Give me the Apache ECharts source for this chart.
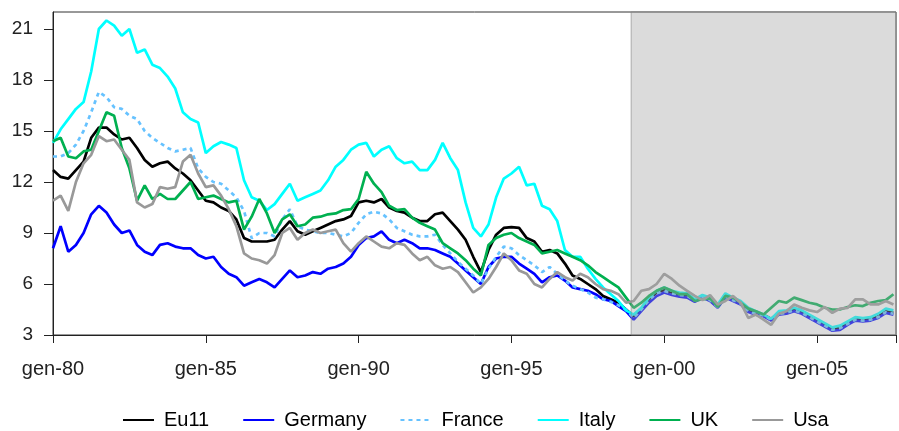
<!DOCTYPE html>
<html>
<head>
<meta charset="utf-8">
<script src="https://cdn.jsdelivr.net/npm/echarts@6/dist/echarts.min.js"></script>
<style>
  html, body { margin: 0; padding: 0; background: #fff; }
  #chart { width: 899px; height: 431px; }
</style>
</head>
<body>
<div id="chart"></div>
<script>
// quarterly readings (Jan, Apr, Jul, Oct), Jan 1980 .. Jul 2007
const eu11 = [
  12.7, 12.3, 12.2, 12.7,   13.2, 14.6, 15.2, 15.2,   14.8, 14.5, 14.6, 14.0,
  13.3, 12.9, 13.1, 13.2,   12.8, 12.5, 12.1, 11.5,   10.9, 10.8, 10.5, 10.3,
  9.8, 8.7, 8.5, 8.5,       8.5, 8.6, 9.2, 9.7,       9.1, 8.9, 9.1, 9.3,
  9.5, 9.7, 9.8, 10.0,      10.8, 10.9, 10.8, 11.0,   10.5, 10.3, 10.2, 9.9,
  9.7, 9.7, 10.1, 10.2,     9.7, 9.2, 8.6, 7.6,       6.7, 8.0, 8.9, 9.3,
  9.35, 9.3, 8.7, 8.5,      7.9, 8.0, 7.8, 7.2,       6.5, 6.3, 6.0, 5.7,
  5.3, 5.1, 4.9, 4.5,       4.1, 4.55, 5.1, 5.5,      5.65, 5.5, 5.4, 5.35,
  5.05, 5.3, 5.1, 4.7,      5.3, 5.1, 4.9, 4.45,      4.3, 4.2, 3.95, 4.3,
  4.35, 4.5, 4.35, 4.1,     3.85, 3.6, 3.35, 3.45,    3.7, 3.95, 3.9, 3.95,
  4.1, 4.4, 4.3
];
const germany = [
  8.1, 9.4, 7.9, 8.3,       9.0, 10.1, 10.6, 10.2,    9.5, 9.0, 9.15, 8.3,
  7.9, 7.7, 8.3, 8.4,       8.2, 8.1, 8.1, 7.7,       7.5, 7.6, 7.0, 6.6,
  6.4, 5.9, 6.1, 6.3,       6.1, 5.8, 6.3, 6.8,       6.4, 6.5, 6.7, 6.6,
  6.9, 7.0, 7.2, 7.6,       8.3, 8.7, 8.8, 9.1,       8.6, 8.4, 8.6, 8.4,
  8.1, 8.1, 8.0, 7.8,       7.6, 7.2, 6.8, 6.4,       6.0, 7.0, 7.5, 7.6,
  7.6, 7.2, 6.9, 6.6,       6.1, 6.4, 6.5, 6.2,       5.8, 5.7, 5.6, 5.4,
  5.1, 5.0, 4.7, 4.4,       3.9, 4.4, 4.9, 5.3,       5.5, 5.35, 5.25, 5.2,
  4.95, 5.2, 5.0, 4.6,      5.2, 5.0, 4.8, 4.35,      4.2, 4.1, 3.85, 4.2,
  4.25, 4.4, 4.25, 4.0,     3.75, 3.5, 3.25, 3.3,     3.6, 3.85, 3.8, 3.85,
  4.0, 4.3, 4.2
];
const france = [
  13.5, 13.5, 13.7, 14.2,   15.0, 16.1, 17.3, 17.0,   16.4, 16.3, 15.9, 15.7,
  15.0, 14.6, 14.3, 14.0,   13.8, 13.9, 14.0, 12.8,   12.3, 12.0, 11.9, 11.5,
  11.1, 10.3, 8.7, 9.0,     9.0, 8.8, 9.8, 10.4,      9.4, 9.2, 9.1, 9.0,
  9.0, 8.9, 8.8, 9.0,       9.6, 10.1, 10.25, 10.15,  9.8, 9.3, 9.1, 8.9,
  8.8, 8.8, 8.9, 8.3,       7.8, 7.3, 6.9, 6.5,       6.0, 6.9, 7.6, 8.2,
  8.1, 7.7, 7.4, 7.1,       6.7, 7.0, 6.6, 6.2,       5.9, 5.7, 5.5, 5.2,
  5.1, 4.95, 4.75, 4.5,     4.0, 4.5, 5.05, 5.45,     5.6, 5.45, 5.35, 5.3,
  5.0, 5.25, 5.05, 4.65,    5.25, 5.05, 4.85, 4.4,    4.25, 4.15, 3.9, 4.25,
  4.3, 4.45, 4.3, 4.05,     3.8, 3.55, 3.3, 3.4,      3.65, 3.9, 3.85, 3.9,
  4.05, 4.35, 4.25
];
const italy = [
  14.3, 15.1, 15.7, 16.3,   16.7, 18.5, 21.0, 21.5,   21.2, 20.6, 21.0, 19.6,
  19.8, 18.9, 18.7, 18.2,   17.5, 16.1, 15.7, 15.5,   13.7, 14.1, 14.35, 14.2,
  14.0, 12.1, 11.1, 10.9,   10.35, 10.7, 11.3, 11.9,  10.9, 11.1, 11.3, 11.5,
  12.1, 12.9, 13.3, 13.9,   14.2, 14.3, 13.5, 13.9,   14.1, 13.4, 13.1, 13.2,
  12.7, 12.7, 13.3, 14.3,   13.4, 12.7, 10.8, 9.3,    8.8, 9.5, 11.1, 12.2,
  12.5, 12.9, 11.8, 11.9,   10.6, 10.4, 9.7, 8.0,     7.6, 7.6, 6.9, 6.3,
  5.8, 5.4, 5.0, 4.45,      4.2, 4.6, 5.2, 5.6,       5.8, 5.6, 5.5, 5.45,
  5.1, 5.35, 5.2, 4.8,      5.45, 5.2, 5.0, 4.6,      4.4, 4.2, 3.95, 4.4,
  4.45, 4.6, 4.45, 4.2,     3.95, 3.7, 3.45, 3.55,    3.8, 4.05, 4.0, 4.05,
  4.25, 4.55, 4.45
];
const uk = [
  14.4, 14.6, 13.5, 13.4,   13.8, 13.9, 15.0, 16.1,   15.9, 14.0, 12.8, 10.9,
  11.8, 11.0, 11.3, 11.0,   11.0, 11.5, 12.0, 11.0,   11.1, 11.2, 11.0, 10.8,
  10.9, 9.2, 9.96, 11.0,    10.15, 9.0, 9.8, 10.1,    9.4, 9.5, 9.9, 9.96,
  10.1, 10.15, 10.35, 10.4, 11.0, 12.6, 11.9, 11.4,   10.6, 10.35, 10.4, 9.9,
  9.6, 9.4, 9.2, 8.4,       8.1, 7.8, 7.4, 6.9,       6.5, 8.3, 8.7, 8.9,
  9.0, 8.7, 8.5, 8.3,       7.8, 7.9, 8.0, 7.8,       7.6, 7.4, 7.1, 6.7,
  6.4, 6.1, 5.8, 5.2,       4.6, 4.9, 5.3, 5.6,       5.8, 5.6, 5.4, 5.4,
  5.0, 5.1, 5.15, 4.65,     5.3, 5.2, 4.9, 4.55,      4.4, 4.2, 4.6, 5.0,
  4.9, 5.2, 5.05, 4.9,      4.8, 4.6, 4.5, 4.5,       4.65, 4.75, 4.7, 4.9,
  5.0, 5.05, 5.4
];
const usa = [
  10.9, 11.2, 10.3, 12.0,   13.1, 13.6, 14.7, 14.4,   14.5, 13.9, 13.3, 10.8,
  10.5, 10.7, 11.7, 11.6,   11.7, 13.2, 13.6, 12.5,   11.7, 11.8, 11.2, 10.4,
  9.4, 7.8, 7.5, 7.4,       7.2, 7.7, 9.0, 9.3,       8.6, 9.0, 9.2, 9.0,
  9.1, 9.2, 8.4, 7.9,       8.4, 8.8, 8.5, 8.2,       8.1, 8.4, 8.3, 7.8,
  7.4, 7.6, 7.1, 6.9,       7.0, 6.7, 6.1, 5.5,       5.8, 6.3, 7.0, 7.8,
  7.4, 6.8, 6.6, 6.0,       5.8, 6.3, 6.7, 6.4,       6.2, 6.6, 6.4, 6.0,
  5.7, 5.6, 5.4, 4.9,       5.0, 5.6, 5.7, 6.0,       6.6, 6.3, 5.9, 5.6,
  5.3, 5.05, 5.35, 4.8,     5.0, 5.3, 4.9, 4.0,       4.2, 3.9, 3.6, 4.25,
  4.4, 4.8, 4.6, 4.45,      4.35, 4.65, 4.3, 4.55,    4.6, 5.1, 5.1, 4.8,
  4.8, 5.0, 4.8
];

// months since gen-80 for each reading
const months = eu11.map((v, i) => i * 3);
const names = ['Eu11', 'Germany', 'France', 'Italy', 'UK', 'Usa'];
const colors = ['#000000', '#0000ff', '#66c2ff', '#00ffff', '#00b050', '#999999'];
const shadeStart = 227;   // shaded forecast area starts end of 1998
const lastMonth = 331;

function pairs(values) {
  return values.map((v, i) => [months[i], v]);
}

const myChart = echarts.init(document.getElementById('chart'));

const series = [eu11, germany, france, italy, uk, usa].map((vals, k) => ({
  name: names[k],
  type: 'line',
  data: pairs(vals),
  symbol: 'none',
  animation: false,
  lineStyle: { color: colors[k], width: 2.7, type: k === 2 ? [4, 4] : 'solid' },
  itemStyle: { color: colors[k] }
}));

// grey shading on top of the lines
series[5].markArea = {
  silent: true,
  z: 10,
  itemStyle: {
    color: 'rgba(165,165,165,0.4)',
    borderColor: 'rgba(130,130,130,0.6)',
    borderWidth: 1
  },
  data: [[{ xAxis: shadeStart }, { xAxis: lastMonth }]]
};

myChart.setOption({
  animation: false,
  grid: {
    left: 53, right: -2, top: 12, bottom: 96,
    show: true, borderColor: '#333', borderWidth: 1
  },
  legend: {
    data: names,
    left: 117,
    top: 405,
    itemWidth: 31,
    itemHeight: 14,
    itemGap: 33,
    itemStyle: { opacity: 0 },
    textStyle: { fontFamily: 'Liberation Sans', fontSize: 20, color: '#000', padding: [0, 0, 0, 5] }
  },
  xAxis: {
    type: 'value',
    min: 0,
    max: lastMonth,
    interval: 60,
    axisLine: { lineStyle: { color: '#222', width: 1 } },
    axisTick: { length: 8, lineStyle: { color: '#222' } },
    splitLine: { show: false },
    axisLabel: {
      fontFamily: 'Liberation Sans',
      fontSize: 20,
      color: '#222',
      margin: 24,
      formatter: function (m) {
        if (m % 60 !== 0) return '';
        return 'gen-' + String((80 + m / 12) % 100).padStart(2, '0');
      }
    }
  },
  yAxis: {
    type: 'value',
    min: 3,
    max: 22,
    interval: 3,
    axisLine: { show: true, lineStyle: { color: '#222', width: 1 } },
    axisTick: { show: true, length: 9, lineStyle: { color: '#222' } },
    splitLine: { show: false },
    axisLabel: {
      fontFamily: 'Liberation Sans',
      fontSize: 19,
      color: '#222',
      margin: 20,
      showMaxLabel: false
    }
  },
  series: series
});
</script>
</body>
</html>
